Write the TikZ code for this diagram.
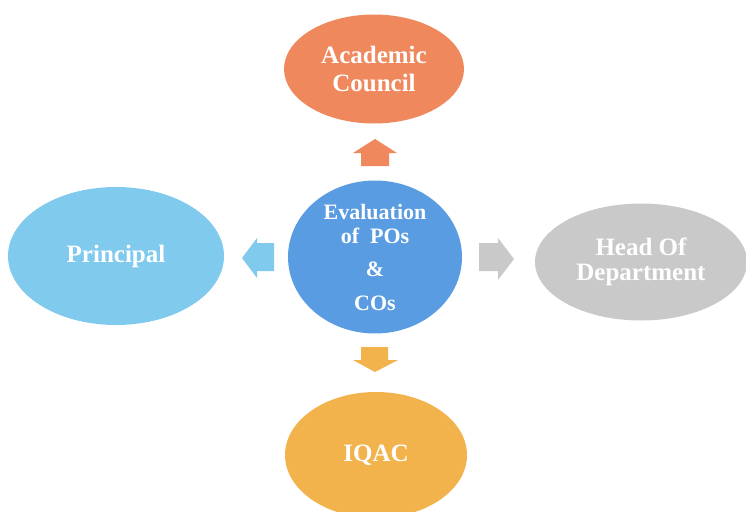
\documentclass[tikz,border=0pt]{standalone}
\usepackage{fontspec}
\setmainfont{Liberation Serif}
\usetikzlibrary{shapes.geometric}
\definecolor{councilcol}{RGB}{239,136,92}
\definecolor{evalcol}{RGB}{90,156,226}
\definecolor{principalcol}{RGB}{128,202,238}
\definecolor{hodcol}{RGB}{201,201,201}
\definecolor{iqaccol}{RGB}{242,178,76}
\begin{document}
\begin{tikzpicture}[x=1pt,y=-1pt,
  blob/.style={ellipse, inner sep=0pt, text=white, align=center,
    font=\bfseries\fontsize{25}{28}\selectfont}]
\useasboundingbox (0,0) rectangle (746,511);
\node [blob, fill=councilcol, minimum width=180, minimum height=109] (council) at (374,69) {Academic\\Council};
\node [blob, fill=evalcol, minimum width=174, minimum height=153, font=\bfseries\fontsize{22}{24}\selectfont] (eval) at (375,257) {Evaluation\\of\ \ POs\\[9pt]\&\\[10pt]COs};
\node [blob, fill=principalcol, minimum width=216, minimum height=138] (principal) at (116,256) {Principal};
\node [blob, fill=hodcol, minimum width=212, minimum height=117, font=\bfseries\fontsize{25}{25}\selectfont] (hod) at (641,262) {Head Of\\Department};
\node [blob, fill=iqaccol, minimum width=182, minimum height=126] (iqac) at (376,455) {IQAC};
% block arrows
\fill [councilcol] (361,166) -- (361,153) -- (353,153) -- (375,139) -- (397,153) -- (389,153) -- (389,166) -- cycle;
\fill [principalcol] (274,243) -- (257,243) -- (257,238) -- (242,258) -- (257,278) -- (257,271) -- (274,271) -- cycle;
\fill [hodcol] (479,243) -- (498,243) -- (498,238) -- (514,259) -- (498,280) -- (498,271) -- (479,271) -- cycle;
\fill [iqaccol] (361,347) -- (361,360) -- (353,360) -- (375,372) -- (398,360) -- (388,360) -- (388,347) -- cycle;
\end{tikzpicture}
\end{document}
